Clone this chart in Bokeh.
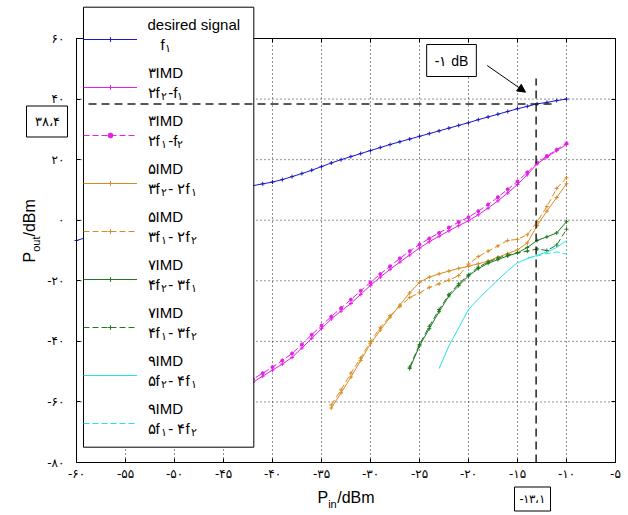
import math
from bokeh.plotting import figure
from bokeh.models import (Range1d, FixedTicker, LinearAxis, Legend, LegendItem,
                          Label, Arrow, NormalHead)
from bokeh.core.properties import value
from bokeh.embed import file_html
from bokeh.resources import INLINE

# ---------------- data ----------------
x_ticks = [-60, -55, -50, -45, -40, -35, -30, -25, -20, -15, -10, -5]
x_tick_labels = ["-۶۰", "-۵۵", "-۵۰", "-۴۵", "-۴۰", "-۳۵", "-۳۰", "-۲۵", "-۲۰", "-۱۵", "-۱۰", "-۵"]
y_ticks = [-80, -60, -40, -20, 0, 20, 40, 60]
y_tick_labels = ["-۸۰", "-۶۰", "-۴۰", "-۲۰", "۰", "۲۰", "۴۰", "۶۰"]

desired_x = [-60, -58, -56, -54, -52, -50, -48, -46, -44, -42, -41, -40, -39, -38, -37, -36, -35,
             -34, -33, -32, -31, -30, -29, -28, -27, -26, -25, -24, -23, -22, -21, -20, -19,
             -18, -17, -16, -15, -14, -13, -12, -11, -10]
desired_y = [-6.7, -4.7, -2.7, -0.7, 1.3, 3.3, 5.3, 7.3, 9.4, 11.4, 12.0, 12.6, 13.4, 14.4, 15.4,
             16.5, 17.7, 18.9, 20.0, 21.0, 22.0, 23.0, 24.0, 25.0, 25.9, 26.8, 27.7, 28.6, 29.5,
             30.4, 31.3, 32.2, 33.2, 34.1, 35.0, 35.9, 36.8, 37.6, 38.4, 38.9, 39.5, 40.0]

imd3_x = [-50, -48, -46, -44, -42, -41, -40, -39, -38, -37, -36, -35, -34, -33, -32, -31,
          -30, -29, -28, -27, -26, -25, -24, -23, -22, -21, -20, -19, -18, -17, -16, -15, -14,
          -13, -12, -11, -10]
imd3_a = [-71.5, -67, -62.5, -58, -53.5, -51.5, -49.5, -47.5, -45.3, -42.2, -39, -35.8,
          -32.6, -30, -27.5, -24.5, -21.5, -18.8, -16.2, -13.8, -11.5, -9.2, -7.1, -5.3, -3.5,
          -1.8, -0.2, 1.8, 4.0, 6.4, 9.0, 11.8, 15.0, 18.6, 20.8, 23.0, 25.0]
imd3_b = [-70.5, -66, -61.5, -57, -52.5, -50.5, -48.5, -46.3, -44, -41, -37.8, -34.8,
          -31.8, -29, -26.2, -23.3, -20.5, -17.8, -15.2, -12.6, -10.2, -8.0, -6.0, -4.2, -2.4,
          -0.6, 1.0, 3.0, 5.2, 7.6, 10.2, 12.8, 15.8, 19.0, 21.2, 23.3, 25.4]

imd5_x = [-34, -33, -32, -31, -30, -29, -28, -27, -26, -25, -24, -23, -22, -21, -20, -19, -18,
          -17, -16, -15, -14, -13, -12, -11, -10]
imd5_a = [-62, -57, -51.8, -46.3, -40.8, -36.3, -32, -28, -24, -20.5, -18.8, -17.7, -16.8, -15.9,
          -15.2, -14.4, -13.5, -12.2, -11, -9.8, -7.5, -1.8, 3, 7.5, 12]
imd5_b = [-61, -56, -50.5, -45.5, -40, -35.5, -31.5, -28.5, -25.5, -24, -22.2, -21, -19.8, -18.3,
          -14.5, -12, -10.2, -8.5, -6.7, -6.3, -4.8, -0.5, 4.5, 10.5, 14]

imd7_x = [-26, -25, -24, -23, -22, -21, -20, -19, -18, -17, -16, -15, -14, -13, -12, -11, -10]
imd7_a = [-49, -41.5, -35.8, -30.2, -25, -21.6, -18.4, -16, -14.2, -13, -11.8, -10.8, -9, -6.7,
          -5.5, -4.2, -0.5]
imd7_b = [-48.5, -41, -35, -29.5, -24.5, -21, -18, -15.5, -13.8, -12.5, -11.5, -10.8, -10.2,
          -9.5, -10, -8.2, -3]

imd9_x = [-23, -22, -21, -20, -19, -18, -17, -16, -15, -14, -13, -12, -11, -10]
imd9_a = [-49, -41.5, -35.5, -29.5, -26, -22.8, -19.7, -16.7, -14, -12.7, -11.6, -10.5, -9, -6.7]
imd9_bx = [-14, -13, -12, -11, -10]
imd9_b = [-12.5, -11.8, -11, -10.5, -11.2]

p1db_in = -13.1
p1db_out = 38.4
p1db_in_text = "-۱۳،۱"
p1db_out_text = "۳۸،۴"
p1db_note = "-۱ dB"

legend_top = ["desired signal", "۳IMD", "۳IMD", "۵IMD", "۵IMD", "۷IMD", "۷IMD", "۹IMD", "۹IMD"]
legend_bottom = [
    [("f", 0), ("۱", 1)],
    [("۲f", 0), ("۲", 1), ("-f", 0), ("۱", 1)],
    [("۲f", 0), ("۱", 1), ("-f", 0), ("۲", 1)],
    [("۳f", 0), ("۲", 1), ("- ۲f", 0), ("۱", 1)],
    [("۳f", 0), ("۱", 1), ("- ۲f", 0), ("۲", 1)],
    [("۴f", 0), ("۲", 1), ("- ۳f", 0), ("۱", 1)],
    [("۴f", 0), ("۱", 1), ("- ۳f", 0), ("۲", 1)],
    [("۵f", 0), ("۲", 1), ("- ۴f", 0), ("۱", 1)],
    [("۵f", 0), ("۱", 1), ("- ۴f", 0), ("۲", 1)],
]

# ---------------- styling ----------------
BLUE = "#1a1ac8"
MAGENTA = "#e61ee6"
ORANGE = "#d68c22"
GREEN = "#1f7a1f"
CYAN = "#22e4e4"
FONT = "Liberation Sans"
DFONT = "DejaVu Sans"

X0, X1, Y0, Y1 = -60, -5, -80, 60
W_PX, H_PX = 628, 515
# pixel box of the axes in the picture (layout only)
FL, FR, FT, FB = 76.0, 615.0, 38.0, 462.0
# legend box in pixels (layout only)
LG_L, LG_R, LG_T, LG_B = 83.0, 253.3, 6.7, 446.7
LG_PAD, LG_ROW = 4, 48


def dx(px):
    return X0 + (px - FL) * (X1 - X0) / (FR - FL)


def dy(py):
    return Y1 - (py - FT) * (Y1 - Y0) / (FB - FT)


p = figure(width=W_PX, height=H_PX, output_backend="svg", toolbar_location=None,
           x_range=Range1d(dx(0), dx(W_PX)), y_range=Range1d(dy(H_PX), dy(0)),
           x_axis_location=None, y_axis_location=None, min_border=0)
p.grid.visible = False
p.outline_line_color = None
p.background_fill_color = "white"
p.border_fill_color = "white"

xt = FixedTicker(ticks=x_ticks)
yt = FixedTicker(ticks=y_ticks)


def make_axis(loc, fixed, bounds, ticker, labels):
    ax = LinearAxis(fixed_location=fixed, bounds=bounds, ticker=ticker,
                    major_tick_in=4, major_tick_out=0, minor_tick_in=0, minor_tick_out=0,
                    axis_line_color="black", major_tick_line_color="black",
                    major_label_text_font=DFONT, major_label_text_font_size="12px",
                    major_label_text_color="black")
    if labels is None:
        ax.major_label_overrides = {t: "" for t in ticker.ticks}
    else:
        ax.major_label_overrides = dict(zip(ticker.ticks, labels))
    p.add_layout(ax, loc)
    return ax


bx = make_axis("below", Y0, (X0, X1), xt, x_tick_labels)
bx.major_label_standoff = 4
ly = make_axis("left", X0, (Y0, Y1), yt, y_tick_labels)
ly.major_label_standoff = 12
make_axis("above", Y1, (X0, X1), xt, None)
make_axis("right", X1, (Y0, Y1), yt, None)

# dotted grid
gv = p.segment(x0=x_ticks[1:-1], y0=[Y0] * (len(x_ticks) - 2), x1=x_ticks[1:-1],
               y1=[Y1] * (len(x_ticks) - 2), line_color="black", line_dash="1 3",
               line_alpha=0.85, line_width=1)
gh = p.segment(x0=[X0] * (len(y_ticks) - 2), y0=y_ticks[1:-1], x1=[X1] * (len(y_ticks) - 2),
               y1=y_ticks[1:-1], line_color="black", line_dash="1 3", line_alpha=0.85,
               line_width=1)
gv.level = "underlay"
gh.level = "underlay"

items = []


def series(x, y, color, dash, marker, msize):
    rs = [p.line(x, y, line_color=color, line_width=1, line_dash=dash)]
    if marker:
        rs.append(p.scatter(x, y, marker=marker, size=msize, line_color=color,
                            fill_color=color, line_width=1))
    items.append(LegendItem(label=value(" "), renderers=rs))


series(desired_x, desired_y, BLUE, "solid", "cross", 4)
series(imd3_x, imd3_a, MAGENTA, "solid", "cross", 4)
series(imd3_x, imd3_b, MAGENTA, "6 3", "circle", 3)
series(imd5_x, imd5_a, ORANGE, "solid", "cross", 4)
series(imd5_x, imd5_b, ORANGE, "6 3", "cross", 4)
series(imd7_x, imd7_a, GREEN, "solid", "cross", 4)
series(imd7_x, imd7_b, GREEN, "6 3", "cross", 4)
series(imd9_x, imd9_a, CYAN, "solid", None, 0)
series(imd9_bx, imd9_b, CYAN, "6 3", None, 0)

# white legend box, drawn above the data lines
box = p.quad(left=[dx(LG_L)], right=[dx(LG_R)], top=[dy(LG_T)], bottom=[dy(LG_B)],
             fill_color="white", line_color="black", line_width=1)
box.level = "annotation"

legend = Legend(items=items, location=(int(LG_L), int(round(H_PX - LG_B))), padding=LG_PAD,
                spacing=0, margin=0, label_height=LG_ROW, glyph_height=12, glyph_width=54,
                label_width=102, label_standoff=6, border_line_color=None,
                background_fill_alpha=0, label_text_font=FONT, label_text_font_size="15px",
                label_text_color="black")
p.add_layout(legend)

# -1 dB compression guides (drawn over the legend box)
hl = p.segment(x0=[dx(88)], y0=[p1db_out], x1=[p1db_in + 1.6], y1=[p1db_out],
               line_color="#222222", line_width=1.5, line_dash="8 5")
hl.level = "overlay"
vl = p.segment(x0=[p1db_in], y0=[Y0], x1=[p1db_in], y1=[dy(78)],
               line_color="#222222", line_width=1.5, line_dash="8 5")
vl.level = "overlay"

p.add_layout(Arrow(end=NormalHead(size=8, fill_color="black", line_color="black"),
                   x_start=dx(486.7), y_start=dy(65), x_end=dx(525), y_end=dy(91.7),
                   line_color="black", line_width=1, level="overlay"))


def box_label(cx, cy, text, size, pad):
    p.add_layout(Label(x=dx(cx), y=dy(cy), text=text, text_font=FONT,
                       text_font_size=size, text_align="center", text_baseline="middle",
                       border_line_color="black", border_line_width=1,
                       background_fill_color="white", padding=pad, text_color="black",
                       level="overlay"))


box_label(451, 60, p1db_note, "14px", 8)
box_label(46.5, 121, p1db_out_text, "13px", 8)
box_label(532, 498.5, p1db_in_text, "12px", 5)

# text width estimate (em) for piecewise placement of subscripts
W = {"f": 0.278, "-": 0.333, " ": 0.278, "I": 0.278, "M": 0.833, "D": 0.722,
     "o": 0.556, "u": 0.556, "t": 0.278, "i": 0.222, "n": 0.556, "/": 0.278,
     "d": 0.556, "B": 0.667, "m": 0.833, "P": 0.667}


def tw(s, fs):
    return sum(W.get(c, 0.62) for c in s) * fs


def text(px, py, s, fs, angle=0.0):
    p.add_layout(Label(x=dx(px), y=dy(py), text=s, text_font=FONT, text_font_size=f"{fs}px",
                       text_align="left", text_baseline="middle", text_color="black",
                       angle=angle, level="overlay"))


def rich(px, py, pieces, size=15, sub=11, drop=4):
    x = px
    for s, is_sub in pieces:
        fs = sub if is_sub else size
        text(x, py + (drop if is_sub else 0), s, fs)
        x += tw(s, fs) + (0.5 if is_sub else 0)


for i in range(9):
    cy = LG_T + LG_PAD + LG_ROW / 2 + i * LG_ROW
    text(147, cy - 11, legend_top[i], 15)
    rich(160 if i == 0 else 147, cy + 9, legend_bottom[i])

# axis titles with subscripts
rich(317, 497, [("P", 0), ("in", 1), ("/dBm", 0)], size=16, sub=11, drop=6)
ypos = 262.0
for s, is_sub in [("P", 0), ("out", 1), ("/dBm", 0)]:
    fs = 11 if is_sub else 16
    text(29 + (6 if is_sub else 0), ypos, s, fs, angle=math.pi / 2)
    ypos -= tw(s, fs)

open("out.html", "w").write(file_html(p, INLINE))
